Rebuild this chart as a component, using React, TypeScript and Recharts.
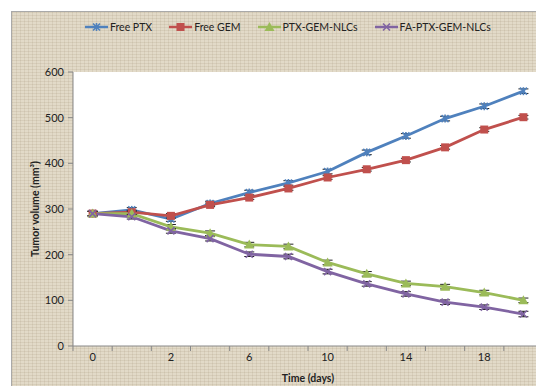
import { LineChart, Line, XAxis, YAxis, CartesianGrid, ErrorBar, Label } from 'recharts';

const days = ['0', '1', '2', '4', '6', '8', '10', '12', '14', '16', '18', '20'];
const freePtx = [290, 298, 278, 312, 336, 357, 382, 424, 460, 498, 525, 558];
const freePtxErr = [5, 5, 5, 5, 5, 5, 5, 5, 5, 5, 5, 5];
const freeGem = [290, 293, 285, 309, 325, 345, 369, 387, 407, 435, 474, 501];
const freeGemErr = [5, 4, 5, 4, 4, 4, 4, 4, 4, 4, 4, 4];
const nlc = [290, 290, 261, 247, 222, 218, 183, 158, 137, 130, 117, 100];
const nlcErr = [5, 5, 5, 5, 5, 5, 5, 5, 5, 5, 5, 5];
const faNlc = [290, 283, 252, 235, 201, 196, 163, 136, 114, 96, 85, 70];
const faNlcErr = [5, 5, 5, 5, 5, 5, 5, 5, 5, 5, 5, 6];
const yTicks = [0, 100, 200, 300, 400, 500, 600];

const BLUE = '#4F81BD';
const RED = '#C0504D';
const GREEN = '#9BBB59';
const PURPLE = '#8064A2';
const AXIS = '#888888';
const FONT = 'Lato, "Open Sans", sans-serif';

const data = days.map((d, i) => ({
  day: d,
  ptx: freePtx[i],
  ptxErr: freePtxErr[i],
  gem: freeGem[i],
  gemErr: freeGemErr[i],
  nlc: nlc[i],
  nlcErr: nlcErr[i],
  fa: faNlc[i],
  faErr: faNlcErr[i],
}));

const CHART_W = 560;
const CHART_H = 386;
const MARGIN = { top: 72, right: 17, left: 0, bottom: 0 };
const Y_AXIS_W = 73;
const X_AXIS_H = 40;
const BAND = (CHART_W - MARGIN.left - MARGIN.right - Y_AXIS_W) / days.length;

type Marker = 'star' | 'square' | 'triangle' | 'x';

function MarkerShape({ kind, cx, cy, color }: { kind: Marker; cx: number; cy: number; color: string }) {
  if (kind === 'square') {
    return <rect x={cx - 4} y={cy - 4} width={8} height={8} fill={color} />;
  }
  if (kind === 'triangle') {
    return <path d={`M${cx},${cy - 5} L${cx + 5},${cy + 4} L${cx - 5},${cy + 4} Z`} fill={color} />;
  }
  if (kind === 'x') {
    return (
      <g stroke={color} strokeWidth={1.6}>
        <line x1={cx - 3.5} y1={cy - 3.5} x2={cx + 3.5} y2={cy + 3.5} />
        <line x1={cx - 3.5} y1={cy + 3.5} x2={cx + 3.5} y2={cy - 3.5} />
      </g>
    );
  }
  return (
    <g stroke={color} strokeWidth={1.6}>
      <line x1={cx - 3.5} y1={cy - 3.5} x2={cx + 3.5} y2={cy + 3.5} />
      <line x1={cx - 3.5} y1={cy + 3.5} x2={cx + 3.5} y2={cy - 3.5} />
      <line x1={cx} y1={cy - 4} x2={cx} y2={cy + 4} />
    </g>
  );
}

const makeDot = (kind: Marker, color: string) => (props: any) => {
  const { cx, cy, index } = props;
  if (cx == null || cy == null) return <g key={index} />;
  return (
    <g key={`${kind}-${index}`}>
      <MarkerShape kind={kind} cx={cx} cy={cy} color={color} />
    </g>
  );
};

const XTick = (props: any) => {
  const { x, y, payload, index } = props;
  return (
    <g>
      <line x1={x - BAND / 2} y1={y} x2={x - BAND / 2} y2={y + 5} stroke={AXIS} />
      {index === days.length - 1 && <line x1={x + BAND / 2} y1={y} x2={x + BAND / 2} y2={y + 5} stroke={AXIS} />}
      {index % 2 === 0 && (
        <text x={x} y={y + 15} textAnchor="middle" fontSize={11} fill="#222" fontFamily={FONT}>
          {payload.value}
        </text>
      )}
    </g>
  );
};

const legendItems: { name: string; color: string; kind: Marker }[] = [
  { name: 'Free PTX', color: BLUE, kind: 'star' },
  { name: 'Free GEM', color: RED, kind: 'square' },
  { name: 'PTX-GEM-NLCs', color: GREEN, kind: 'triangle' },
  { name: 'FA-PTX-GEM-NLCs', color: PURPLE, kind: 'x' },
];

const ChartLegend = () => (
  <div
    style={{
      position: 'absolute',
      left: 85,
      top: 21,
      display: 'flex',
      alignItems: 'center',
      gap: 17,
      fontFamily: FONT,
      fontSize: 10.5,
      color: '#222',
      whiteSpace: 'nowrap',
    }}
  >
    {legendItems.map((it) => (
      <div key={it.name} style={{ display: 'flex', alignItems: 'center', gap: 2 }}>
        <svg width={23} height={12}>
          <line x1={0} y1={6} x2={23} y2={6} stroke={it.color} strokeWidth={2.5} />
          <MarkerShape kind={it.kind} cx={11.5} cy={6} color={it.color} />
        </svg>
        <span>{it.name}</span>
      </div>
    ))}
  </div>
);

export default function App() {
  return (
    <div style={{ position: 'absolute', left: 0, top: 0, width: 536, height: 386, overflow: 'hidden', background: '#fff' }}>
      <div
        style={{
          position: 'absolute',
          left: 11,
          top: 11,
          width: 560,
          height: 400,
          border: '1px solid #a9a9a9',
          backgroundColor: '#e2dac8',
          backgroundImage:
            'repeating-linear-gradient(0deg, rgba(140,120,90,0.13) 0px, rgba(140,120,90,0.13) 1px, transparent 1px, transparent 3px), repeating-linear-gradient(90deg, rgba(140,120,90,0.12) 0px, rgba(140,120,90,0.12) 1px, transparent 1px, transparent 4px)',
        }}
      />
      <ChartLegend />
      <div style={{ position: 'absolute', left: 0, top: 0 }}>
        <LineChart width={CHART_W} height={CHART_H} data={data} margin={MARGIN}>
          <CartesianGrid horizontal={false} vertical={false} fill="#ffffff" />
          <XAxis
            dataKey="day"
            scale="band"
            interval={0}
            tickSize={0}
            tickMargin={0}
            tickLine={false}
            axisLine={{ stroke: AXIS }}
            tick={<XTick />}
            height={X_AXIS_H}
          >
            <Label value="Time (days)" position="insideBottom" offset={4} fontSize={10.5} fontWeight="bold" fill="#222" fontFamily={FONT} />
          </XAxis>
          <YAxis
            domain={[0, 600]}
            ticks={yTicks}
            width={Y_AXIS_W}
            tickSize={5}
            tickMargin={4}
            axisLine={{ stroke: AXIS }}
            tickLine={{ stroke: AXIS }}
            tick={{ fontSize: 11, fill: '#222', fontFamily: FONT }}
          >
            <Label
              value="Tumor volume (mm³)"
              angle={-90}
              position="insideLeft"
              offset={35}
              style={{ textAnchor: 'middle' }}
              fontSize={10.5}
              fontWeight="bold"
              fill="#222"
              fontFamily={FONT}
            />
          </YAxis>
          <Line dataKey="ptx" name="Free PTX" stroke={BLUE} strokeWidth={2.8} dot={makeDot('star', BLUE)} activeDot={false} isAnimationActive={false}>
            <ErrorBar dataKey="ptxErr" width={5} stroke="#222" strokeWidth={1} />
          </Line>
          <Line dataKey="gem" name="Free GEM" stroke={RED} strokeWidth={2.8} dot={makeDot('square', RED)} activeDot={false} isAnimationActive={false}>
            <ErrorBar dataKey="gemErr" width={5} stroke="#222" strokeWidth={1} />
          </Line>
          <Line dataKey="nlc" name="PTX-GEM-NLCs" stroke={GREEN} strokeWidth={2.8} dot={makeDot('triangle', GREEN)} activeDot={false} isAnimationActive={false}>
            <ErrorBar dataKey="nlcErr" width={5} stroke="#222" strokeWidth={1} />
          </Line>
          <Line dataKey="fa" name="FA-PTX-GEM-NLCs" stroke={PURPLE} strokeWidth={2.8} dot={makeDot('x', PURPLE)} activeDot={false} isAnimationActive={false}>
            <ErrorBar dataKey="faErr" width={5} stroke="#222" strokeWidth={1} />
          </Line>
        </LineChart>
      </div>
    </div>
  );
}
